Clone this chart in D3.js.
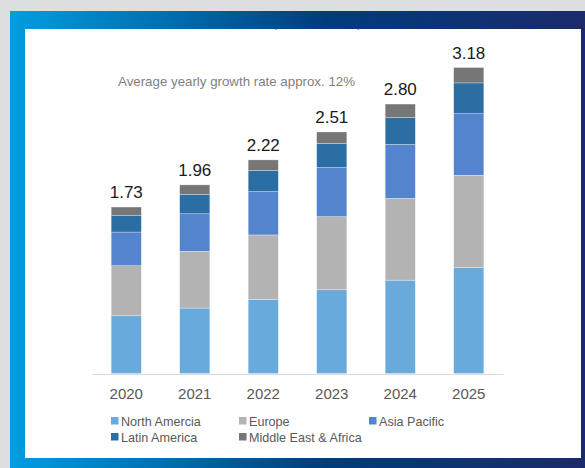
<!DOCTYPE html>
<html>
<head>
<meta charset="utf-8">
<script src="https://cdn.jsdelivr.net/npm/d3@7"></script>
<style>
  body { margin: 0; background: #dddee0; }
  svg { display: block; font-family: "Liberation Sans", Arial, sans-serif; }
</style>
</head>
<body>
<div id="wrapper"></div>
<script>
const w = 585
const h = 468

// data (USD)
const years = ['2020', '2021', '2022', '2023', '2024', '2025']
const regions = ['North Amercia', 'Europe', 'Asia Pacific', 'Latin America', 'Middle East & Africa']
const northAmerica = [0.60, 0.68, 0.77, 0.87, 0.97, 1.10]
const europe = [0.52, 0.59, 0.67, 0.76, 0.85, 0.96]
const asiaPacific = [0.35, 0.39, 0.45, 0.51, 0.56, 0.64]
const latinAmerica = [0.17, 0.20, 0.22, 0.25, 0.28, 0.32]
const middleEastAfrica = [0.09, 0.10, 0.11, 0.12, 0.14, 0.16]
const totals = [1.73, 1.96, 2.22, 2.51, 2.80, 3.18]
const colors = ['#69aadd', '#b3b3b3', '#5584cf', '#2b6ea3', '#767676']

const svg = d3.select('#wrapper').append('svg')
  .attr('width', w)
  .attr('height', h)

// blue gradient frame
const grad = svg.append('defs').append('linearGradient')
  .attr('id', 'frame').attr('x1', '0%').attr('x2', '100%')
grad.append('stop').attr('offset', '0%').attr('stop-color', '#009ee0')
grad.append('stop').attr('offset', '32%').attr('stop-color', '#0066a6')
grad.append('stop').attr('offset', '55%').attr('stop-color', '#003c7b')
grad.append('stop').attr('offset', '100%').attr('stop-color', '#1b2a6b')
svg.select('defs').append('clipPath').attr('id', 'panelClip')
  .append('rect').attr('x', 25).attr('y', 29).attr('width', 556).attr('height', 429)

svg.append('rect').attr('x', 10).attr('y', 11).attr('width', w - 10).attr('height', h - 11)
  .attr('fill', 'url(#frame)')
svg.append('rect').attr('x', 25).attr('y', 29).attr('width', 556).attr('height', 429)
  .attr('fill', '#fff')

const panel = svg.append('g').attr('clip-path', 'url(#panelClip)')

// title mostly cut off above the panel, only the brackets peek through
panel.append('text')
  .attr('x', 317).attr('y', 27)
  .attr('text-anchor', 'middle')
  .style('font-size', '16px')
  .style('fill', '#8a8a8a')
  .text('(USD trillion)')

const rows = years.map((y, i) => ({
  year: y,
  'North Amercia': northAmerica[i],
  'Europe': europe[i],
  'Asia Pacific': asiaPacific[i],
  'Latin America': latinAmerica[i],
  'Middle East & Africa': middleEastAfrica[i],
  total: totals[i]
}))

const x = d3.scaleBand().domain(years).range([92, 503]).paddingInner(0.56).paddingOuter(0.28)
const yScale = d3.scaleLinear().domain([0, 3.18]).range([373.5, 67.5])

const stack = d3.stack().keys(regions)(rows)

panel.selectAll('.series')
  .data(stack)
  .enter().append('g')
  .attr('class', 'series')
  .attr('fill', (d, i) => colors[i])
  .selectAll('rect')
  .data(d => d)
  .enter().append('rect')
  .attr('x', d => x(d.data.year))
  .attr('width', x.bandwidth())
  .attr('y', d => yScale(d[1]))
  .attr('height', d => yScale(d[0]) - yScale(d[1]))
  .attr('stroke', '#fff')
  .attr('stroke-opacity', 0.5)
  .attr('stroke-width', 0.6)

// axis line
const xAxis = panel.append('g')
  .attr('transform', `translate(0,${yScale(0) + 0.5})`)
  .call(d3.axisBottom(x).tickSize(0).tickPadding(14))
xAxis.select('.domain').attr('stroke', '#d9d9d9').attr('stroke-width', 1)
xAxis.selectAll('text')
  .style('font-size', '15px')
  .style('font-family', '"Liberation Sans", Arial, sans-serif')
  .style('fill', '#595959')

// totals
panel.selectAll('.total')
  .data(rows)
  .enter().append('text')
  .attr('class', 'total')
  .attr('x', d => x(d.year) + x.bandwidth() / 2)
  .attr('y', d => yScale(d.total) - 9)
  .attr('text-anchor', 'middle')
  .style('font-size', '17px')
  .style('fill', '#1a1a1a')
  .text(d => d.total.toFixed(2))

panel.append('text')
  .attr('x', 118).attr('y', 86)
  .style('font-size', '13.3px')
  .style('fill', '#7f7f7f')
  .text('Average yearly growth rate approx. 12%')

// legend, 3 per row
const legendX = [111, 239, 369]
const legendY = [421, 437]
const legend = panel.selectAll('.legend')
  .data(regions)
  .enter().append('g')
  .attr('class', 'legend')
  .attr('transform', (d, i) => `translate(${legendX[i % 3]},${legendY[Math.floor(i / 3)]})`)
legend.append('rect')
  .attr('x', 0).attr('y', -4).attr('width', 7.5).attr('height', 7.5)
  .attr('fill', (d, i) => colors[i])
legend.append('text')
  .attr('x', 10).attr('y', 4.5)
  .style('font-size', '12.6px')
  .style('fill', '#595959')
  .text(d => d)
</script>
</body>
</html>
